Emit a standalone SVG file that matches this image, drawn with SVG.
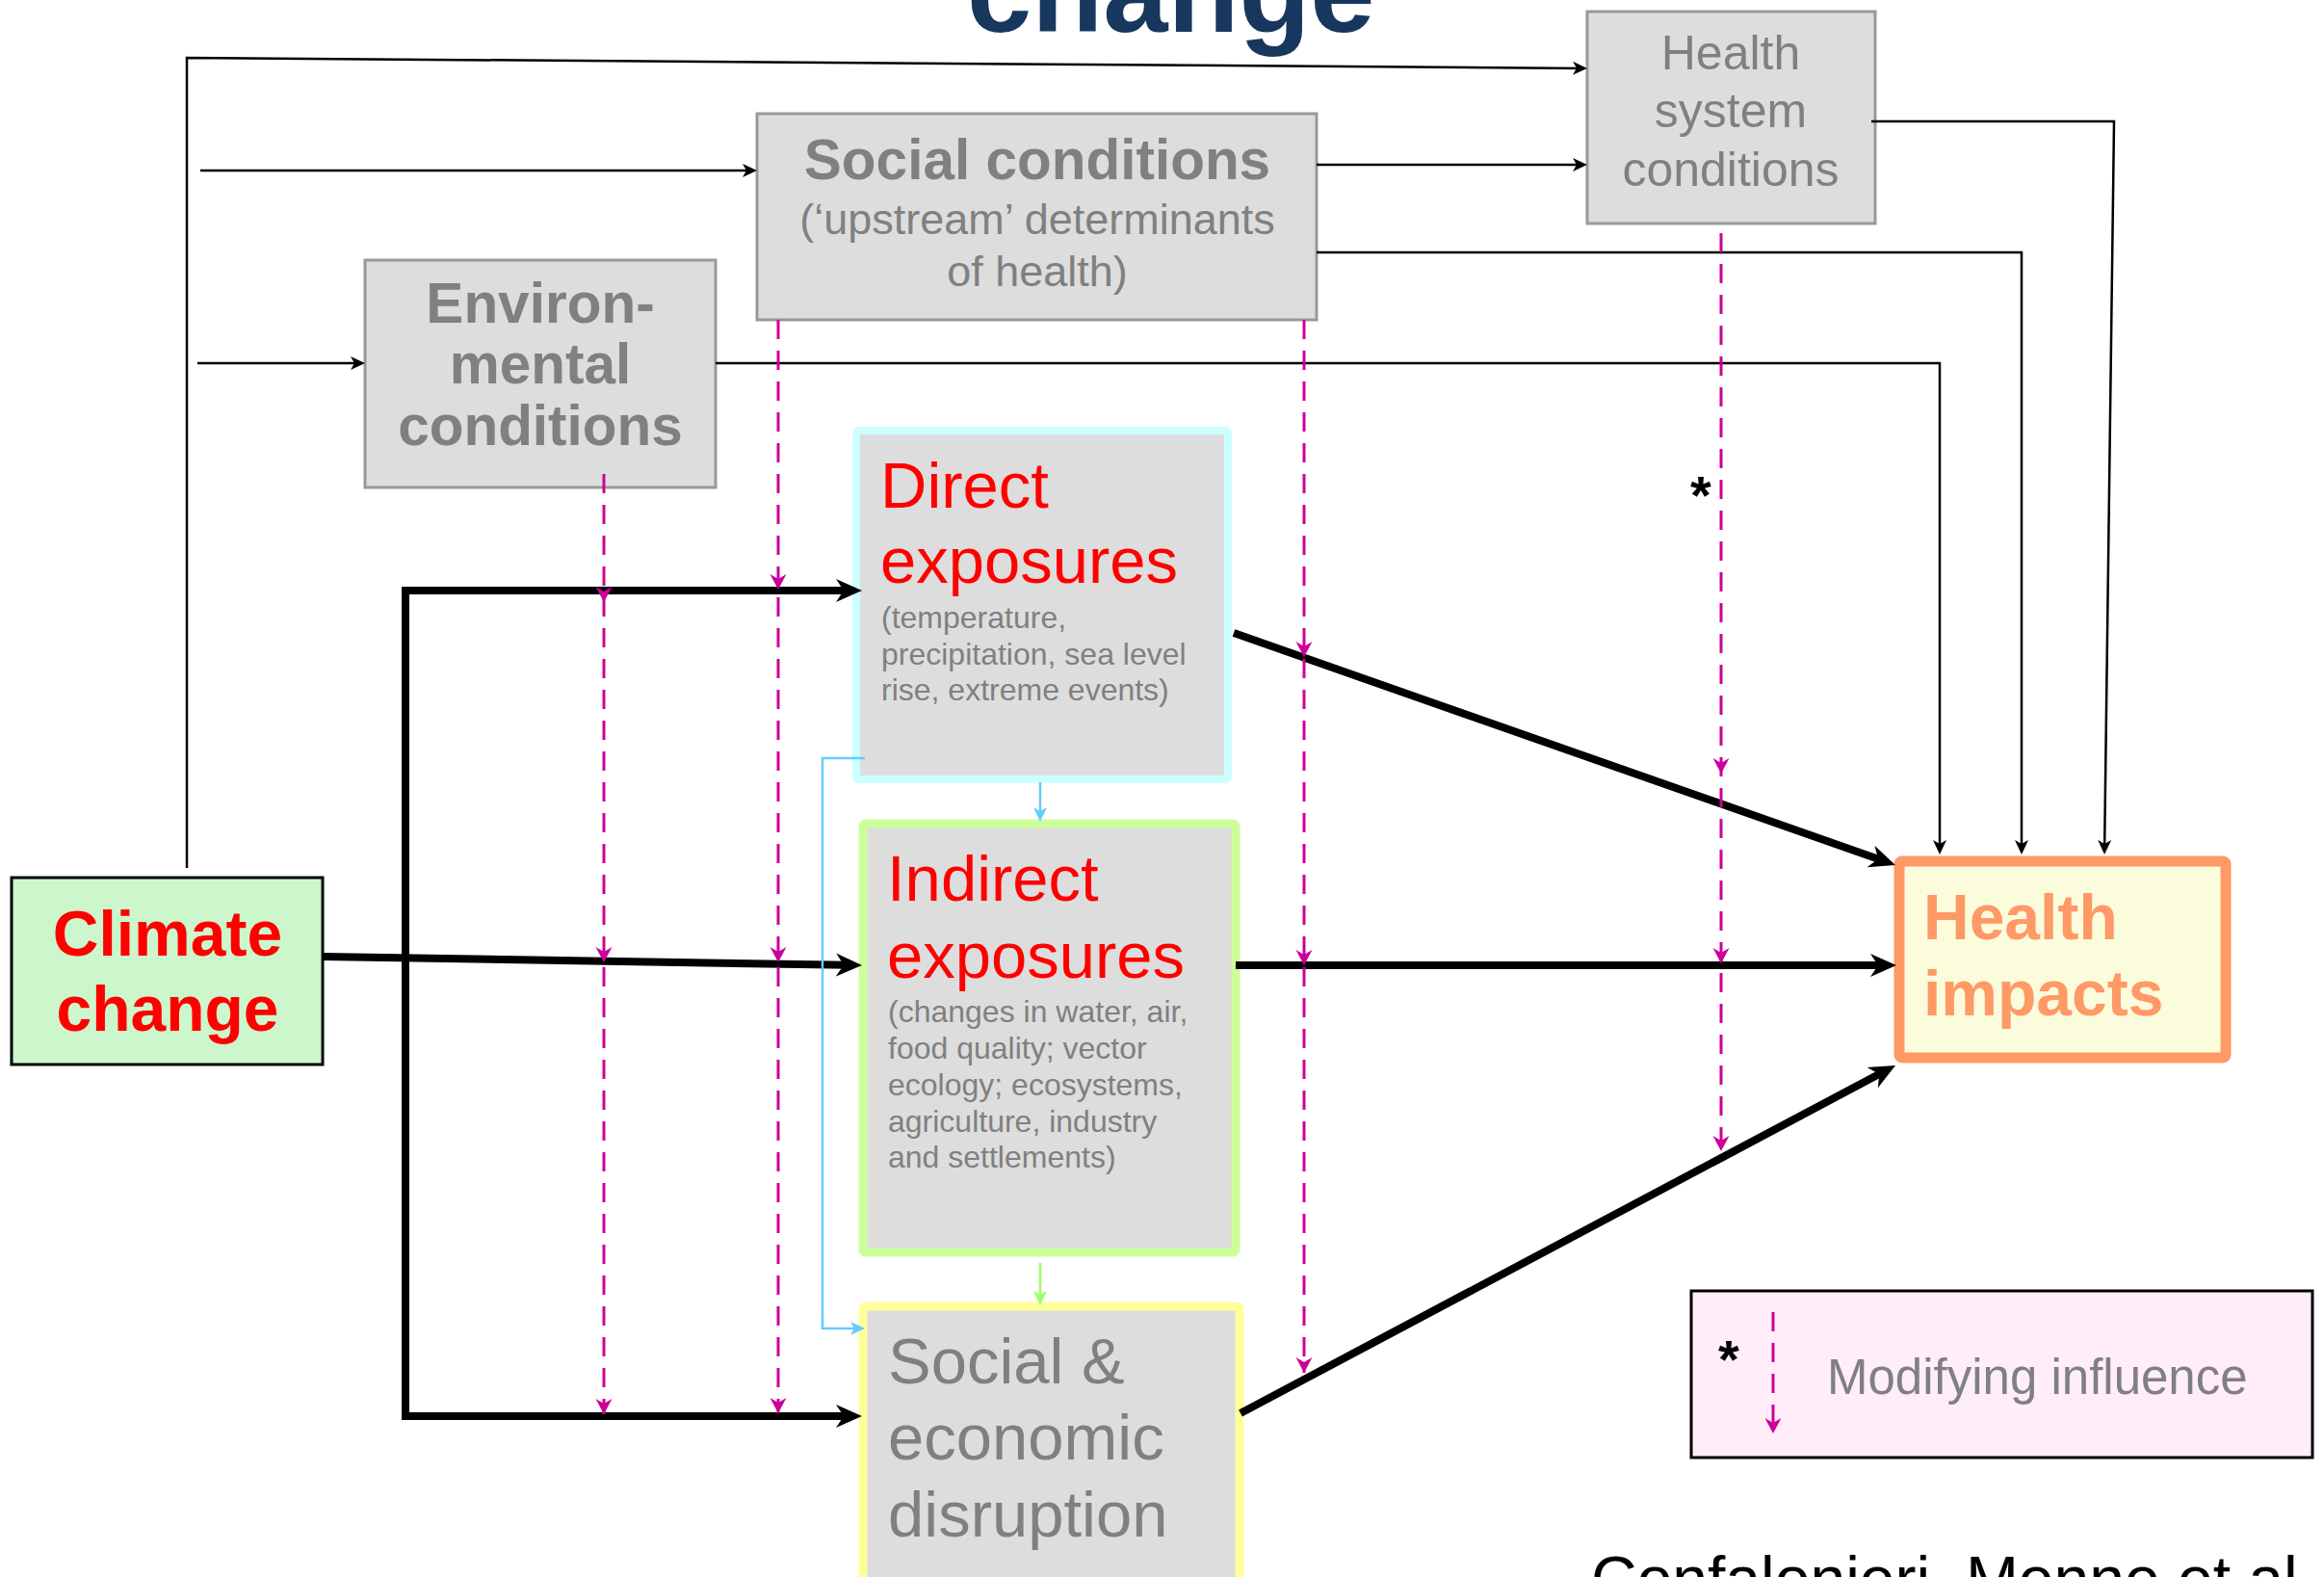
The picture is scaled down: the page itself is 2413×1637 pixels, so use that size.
<svg xmlns="http://www.w3.org/2000/svg" width="2413" height="1637" viewBox="0 0 2413 1637">
<style>
text{font-family:"Liberation Sans",Arial,sans-serif;}
.gbox{fill:#DDDDDD;stroke:#999999;stroke-width:3;}
.gt{fill:#808080;}
.big{font-size:67px;}
.sub{font-size:32px;fill:#808080;}
.red{fill:#FF0000;}
.thin{fill:none;stroke:#000;stroke-width:2.5;}
.thick{fill:none;stroke:#000;stroke-width:8;stroke-linejoin:miter;}
.mag{fill:none;stroke:#CC0099;stroke-width:3;stroke-dasharray:20 12;}
.blue{fill:none;stroke:#66CCFF;stroke-width:2.5;}
.green{fill:none;stroke:#99FF66;stroke-width:2.5;}
</style>
<defs>
<marker id="ahThick" markerUnits="userSpaceOnUse" viewBox="0 -13 28 26" refX="12" refY="0" markerWidth="28" markerHeight="26" orient="auto"><path d="M27,0 L0,-12 L8,0 L0,12 Z" fill="#000"/></marker>
<marker id="ahThin" markerUnits="userSpaceOnUse" viewBox="0 -8 16 16" refX="10" refY="0" markerWidth="16" markerHeight="16" orient="auto"><path d="M15,0 L0,-7 L4,0 L0,7 Z" fill="#000"/></marker>
<marker id="ahBlue" markerUnits="userSpaceOnUse" viewBox="0 -8 16 16" refX="10" refY="0" markerWidth="16" markerHeight="16" orient="auto"><path d="M15,0 L0,-7 L4,0 L0,7 Z" fill="#66CCFF"/></marker>
<marker id="ahGreen" markerUnits="userSpaceOnUse" viewBox="0 -8 16 16" refX="10" refY="0" markerWidth="16" markerHeight="16" orient="auto"><path d="M15,0 L0,-7 L4,0 L0,7 Z" fill="#99FF66"/></marker>
<marker id="ahMag" markerUnits="userSpaceOnUse" viewBox="0 -9 17 18" refX="16" refY="0" markerWidth="17" markerHeight="18" orient="auto"><path d="M16,0 L0,-8.5 L5,0 L0,8.5 Z" fill="#CC0099"/></marker>
</defs>
<rect width="2413" height="1637" fill="#FFFFFF"/>
<text id="title" x="1004" y="33" font-size="121" font-weight="bold" fill="#17375E">change</text>

<g id="health-system">
<rect class="gbox" x="1648" y="12" width="299" height="220"/>
<text class="gt" font-size="50" text-anchor="middle" x="1797" y="72">Health</text>
<text class="gt" font-size="50" text-anchor="middle" x="1797" y="132">system</text>
<text class="gt" font-size="50" text-anchor="middle" x="1797" y="193">conditions</text>
</g>
<g id="social-conditions">
<rect class="gbox" x="786" y="118" width="581" height="214"/>
<text class="gt" font-size="58.5" font-weight="bold" text-anchor="middle" x="1077" y="186">Social conditions</text>
<text class="gt" font-size="45" text-anchor="middle" x="1077" y="243">(‘upstream’ determinants</text>
<text class="gt" font-size="45" text-anchor="middle" x="1077" y="297">of health)</text>
</g>
<g id="environmental-conditions">
<rect class="gbox" x="379" y="270" width="364" height="236"/>
<text class="gt" font-size="58.5" font-weight="bold" text-anchor="middle" x="561" y="335">Environ-</text>
<text class="gt" font-size="58.5" font-weight="bold" text-anchor="middle" x="561" y="398">mental</text>
<text class="gt" font-size="58.5" font-weight="bold" text-anchor="middle" x="561" y="462">conditions</text>
</g>
<g id="climate-change">
<rect x="12" y="911" width="323" height="194" fill="#CCF7CC" stroke="#000" stroke-width="3"/>
<text class="red" font-size="66" font-weight="bold" text-anchor="middle" x="174" y="992">Climate</text>
<text class="red" font-size="66" font-weight="bold" text-anchor="middle" x="174" y="1070">change</text>
</g>
<g id="direct-exposures">
<rect x="889" y="447" width="386" height="362" rx="3" fill="#DDDDDD" stroke="#CCFFFF" stroke-width="8"/>
<text class="red big" x="914" y="527">Direct</text>
<text class="red big" x="914" y="605">exposures</text>
<text class="sub" x="915" y="652">(temperature,</text>
<text class="sub" x="915" y="690">precipitation, sea level</text>
<text class="sub" x="915" y="727">rise, extreme events)</text>
</g>
<g id="indirect-exposures">
<rect x="896" y="855" width="387" height="445" rx="3" fill="#DDDDDD" stroke="#CCFF99" stroke-width="9"/>
<text class="red big" x="921" y="935">Indirect</text>
<text class="red big" x="921" y="1015">exposures</text>
<text class="sub" x="922" y="1061">(changes in water, air,</text>
<text class="sub" x="922" y="1099">food quality; vector</text>
<text class="sub" x="922" y="1137">ecology; ecosystems,</text>
<text class="sub" x="922" y="1175">agriculture, industry</text>
<text class="sub" x="922" y="1212">and settlements)</text>
</g>
<g id="social-economic-disruption">
<rect x="896" y="1356" width="391" height="320" rx="3" fill="#DDDDDD" stroke="#FFFF99" stroke-width="9"/>
<text class="gt big" x="922" y="1436">Social &amp;</text>
<text class="gt big" x="922" y="1515">economic</text>
<text class="gt big" x="922" y="1595">disruption</text>
</g>
<g id="health-impacts">
<rect x="1972" y="894" width="339" height="204" rx="3" fill="#FAFCDC" stroke="#FF9966" stroke-width="11"/>
<text font-size="66" font-weight="bold" fill="#FF9966" x="1997" y="975">Health</text>
<text font-size="66" font-weight="bold" fill="#FF9966" x="1997" y="1054">impacts</text>
</g>
<g id="legend">
<rect x="1756" y="1340" width="645" height="173" fill="#FFEEF9" stroke="#000" stroke-width="3"/>
<text x="1784" y="1430" font-size="56" font-weight="bold" fill="#000">*</text>
<path class="mag" d="M1841,1362 L1841,1488" marker-end="url(#ahMag)"/>
<text class="gt" font-size="51" x="1897" y="1447">Modifying influence</text>
</g>

<g id="connectors">
<path class="thin" d="M194,901 L194,60 L1643,70.9" marker-end="url(#ahThin)"/>
<path class="thin" d="M208,177 L781,177" marker-end="url(#ahThin)"/>
<path class="thin" d="M205,377 L374,377" marker-end="url(#ahThin)"/>
<path class="thin" d="M1367,171 L1643,171" marker-end="url(#ahThin)"/>
<path class="thin" d="M1943,126 L2195,126 L2185.1,882" marker-end="url(#ahThin)"/>
<path class="thin" d="M1367,262 L2099,262 L2099,882" marker-end="url(#ahThin)"/>
<path class="thin" d="M743,377 L2014,377 L2014,882" marker-end="url(#ahThin)"/>

<path class="thick" d="M421,1474 L421,613 L880,613" marker-end="url(#ahThick)"/>
<path class="thick" d="M417,1470 L880,1470" marker-end="url(#ahThick)"/>
<path class="thick" d="M335,993 L880,1001.8" marker-end="url(#ahThick)"/>
<path class="thick" d="M1281,657 L1953.8,893" marker-end="url(#ahThick)"/>
<path class="thick" d="M1283,1002 L1954,1002" marker-end="url(#ahThick)"/>
<path class="thick" d="M1288,1467 L1954.8,1113" marker-end="url(#ahThick)"/>

<path class="blue" d="M1080,812 L1080,848" marker-end="url(#ahBlue)"/>
<path class="blue" d="M898,787 L854,787 L854,1379 L893,1379" marker-end="url(#ahBlue)"/>
<path class="green" d="M1080,1311 L1080,1350" marker-end="url(#ahGreen)"/>

<path class="mag" d="M627,492 L627,625 L627,999 L627,1468" marker-mid="url(#ahMag)" marker-end="url(#ahMag)"/>
<path class="mag" d="M808,332 L808,612 L808,999 L808,1467" marker-mid="url(#ahMag)" marker-end="url(#ahMag)"/>
<path class="mag" d="M1354,332 L1354,682 L1354,1002 L1354,1425" marker-mid="url(#ahMag)" marker-end="url(#ahMag)"/>
<path class="mag" d="M1787,242 L1787,803 L1787,1000 L1787,1195" marker-mid="url(#ahMag)" marker-end="url(#ahMag)"/>
</g>
<text id="asterisk" x="1755" y="533" font-size="56" font-weight="bold" fill="#000">*</text>
<text id="citation" x="1652" y="1662" font-size="66" fill="#000">Confalonieri, Menne et al</text>
</svg>
